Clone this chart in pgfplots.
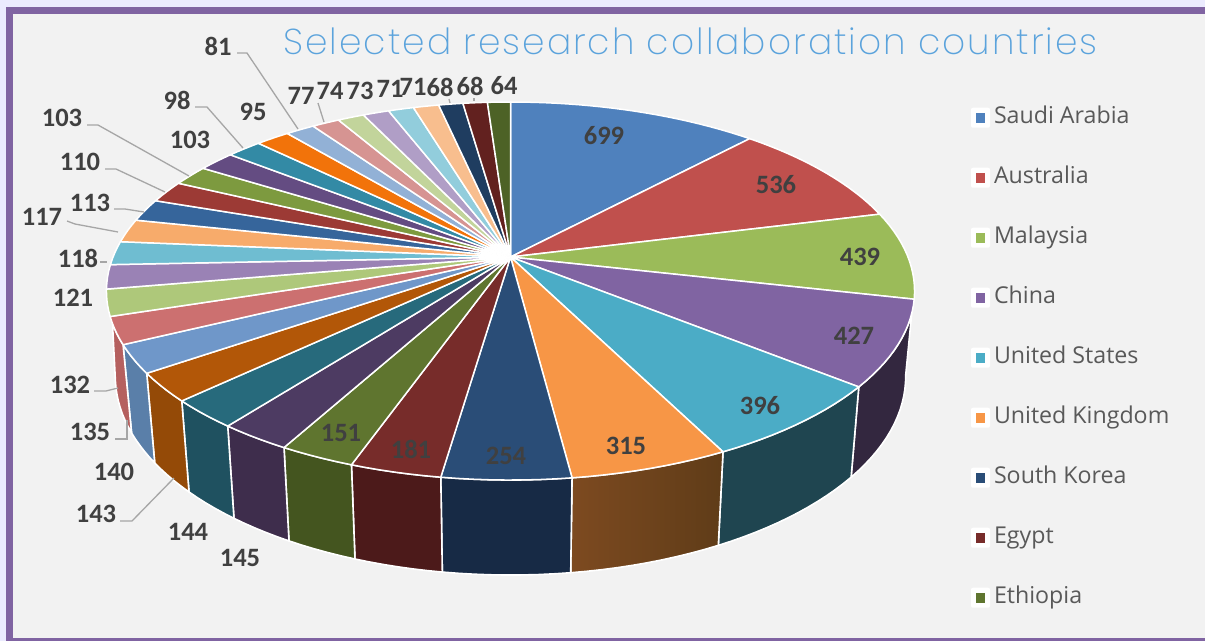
\documentclass[border=0pt]{standalone}
\usepackage{pgfplots}
\pgfplotsset{compat=1.18}
\usepackage{fontspec}
\setmainfont{Carlito}
\newfontfamily\legfont{Open Sans}
\newfontfamily\titlefont[UprightFont={* ExtraLight},LetterSpace=5.6]{Poppins}
\definecolor{t1}{HTML}{4F81BD}\definecolor{t2}{HTML}{C0504D}\definecolor{t3}{HTML}{9BBB59}
\definecolor{t4}{HTML}{8064A2}\definecolor{t5}{HTML}{4BACC6}\definecolor{t6}{HTML}{F79646}
\definecolor{t7}{HTML}{2A4D77}\definecolor{t8}{HTML}{772C2A}\definecolor{t9}{HTML}{5F752F}
\definecolor{t10}{HTML}{4D3B62}\definecolor{t11}{HTML}{276A7C}\definecolor{t12}{HTML}{B25708}
\definecolor{t13}{HTML}{6F97C9}\definecolor{t14}{HTML}{CC7070}\definecolor{t15}{HTML}{AEC87A}
\definecolor{t16}{HTML}{9A82B5}\definecolor{t17}{HTML}{6FBDD1}\definecolor{t18}{HTML}{F7AB6B}
\definecolor{t19}{HTML}{36659B}\definecolor{t20}{HTML}{9C3A35}\definecolor{t21}{HTML}{7D9A3F}
\definecolor{t22}{HTML}{644C82}\definecolor{t23}{HTML}{338AA5}\definecolor{t24}{HTML}{F2730A}
\definecolor{t25}{HTML}{92B1D6}\definecolor{t26}{HTML}{D69492}\definecolor{t27}{HTML}{C2D49B}
\definecolor{t28}{HTML}{B09EC6}\definecolor{t29}{HTML}{92CDDC}\definecolor{t30}{HTML}{F8BE8E}
\definecolor{t31}{HTML}{1F3D60}\definecolor{t32}{HTML}{62211F}\definecolor{t33}{HTML}{4D6226}
\definecolor{w4}{HTML}{33273F}\definecolor{w5}{HTML}{1F4550}\definecolor{w6}{HTML}{6E431C}
\definecolor{w7}{HTML}{172A45}\definecolor{w8}{HTML}{4C1A1A}\definecolor{w9}{HTML}{44551F}
\definecolor{w10}{HTML}{3E2D4C}\definecolor{w11}{HTML}{1F5160}\definecolor{w12}{HTML}{944A07}
\definecolor{w13}{HTML}{5A7FA9}\definecolor{w14}{HTML}{B5605F}
\definecolor{lab}{HTML}{404040}
\definecolor{lead}{HTML}{A6A6A6}
\definecolor{ukL}{HTML}{7D4A20}\definecolor{ukR}{HTML}{5F3C18}
\definecolor{titlec}{HTML}{5BA3DC}
% projection of the pie rim into the picture
\newcommand\toppt[1]{%
  \pgfmathsetmacro\tX{sin(#1)}\pgfmathsetmacro\tY{cos(#1)}%
  \pgfmathsetmacro\tW{1+0.18*\tY}%
  \pgfmathsetmacro\px{510.5+397.5*\tX/\tW}%
  \pgfmathsetmacro\py{257-182.9*\tY/\tW}}
\newcommand\botpt[1]{\toppt{#1}%
  \pgfmathsetmacro\py{\py+71+0.05*\py}%
  \pgfmathsetmacro\px{510.5+(\px-510.5)*0.978}}
% \arcadd{point macro}{from}{to}
\newcommand\arcadd[3]{%
  \pgfmathtruncatemacro\nn{max(2,ceil(abs(#3-(#2))/2))}%
  \foreach \k in {0,...,\nn}{%
    \pgfmathsetmacro\ang{#2+(#3-(#2))*\k/\nn}%
    #1{\ang}%
    \xdef\acc{\acc (\px,\py)}%
  }}
\newcommand\vals{699,536,439,427,396,315,254,181,151,145,144,143,140,135,132,121,118,117,113,110,103,103,98,95,81,77,74,73,71,71,68,68,64}
\newcommand\lbl[3]{\node[font=\bfseries\fontsize{26.5}{26.5}\selectfont,text=lab,inner sep=0pt] at (axis cs:#1,#2) {#3};}
\newcommand\leadline[1]{\addplot[lead,line width=1.3pt,forget plot] coordinates {#1};}
\begin{document}
\begin{tikzpicture}
\begin{axis}[
  scale only axis,width=1205pt,height=641pt,
  xmin=0,xmax=1205,ymin=0,ymax=641,y dir=reverse,hide axis,
  no markers,
  legend cell align=left,
  legend image code/.code={%
    \fill[white,rounded corners=2pt] (0pt,-10pt) rectangle (19pt,10pt);
    \fill[#1] (5pt,-5pt) rectangle (14pt,5pt);},
  legend style={at={(axis cs:971,103)},anchor=north west,draw=none,fill=none,
    inner sep=0pt,outer sep=0pt,row sep=30.6pt,
    nodes={inner sep=0pt,text height=20pt,text depth=9.4pt,
      font=\legfont\fontsize{23.2}{24}\selectfont,text=black!65}},
]
\addlegendimage{fill=t1,draw=none}\addlegendentry{\hspace{4pt}Saudi Arabia}
\addlegendimage{fill=t2,draw=none}\addlegendentry{\hspace{4pt}Australia}
\addlegendimage{fill=t3,draw=none}\addlegendentry{\hspace{4pt}Malaysia}
\addlegendimage{fill=t4,draw=none}\addlegendentry{\hspace{4pt}China}
\addlegendimage{fill=t5,draw=none}\addlegendentry{\hspace{4pt}United States}
\addlegendimage{fill=t6,draw=none}\addlegendentry{\hspace{4pt}United Kingdom}
\addlegendimage{fill=t7,draw=none}\addlegendentry{\hspace{4pt}South Korea}
\addlegendimage{fill=t8,draw=none}\addlegendentry{\hspace{4pt}Egypt}
\addlegendimage{fill=t9,draw=none}\addlegendentry{\hspace{4pt}Ethiopia}
% page and frame
\addplot[fill=black!3!blue!8!white,draw=none,forget plot] coordinates {(0,0)(1205,0)(1205,641)(0,641)} --cycle;
\addplot[fill=t4,draw=none,forget plot] coordinates {(6,7)(1205,7)(1205,641)(6,641)} --cycle;
\addplot[fill=black!5,draw=none,forget plot] coordinates {(13,14)(1205,14)(1205,638)(13,638)} --cycle;
% side walls
\gdef\cum{0}
\foreach \v [count=\i] in \vals {
  \pgfmathsetmacro\aS{\cum/5862*360}
  \pgfmathsetmacro\newcum{\cum+\v}
  \xdef\cum{\newcum}
  \pgfmathsetmacro\aE{\cum/5862*360}
  \ifnum\i>3 \ifnum\i<15
    \edef\tS{\aS}\edef\tE{\aE}\edef\bS{\aS}\edef\bE{\aE}
    \ifnum\i=4 \def\tS{107}\def\bS{100}\fi
    \ifnum\i=14 \def\tE{250}\def\bE{258}\fi
    \gdef\acc{}
    \arcadd{\toppt}{\tS}{\tE}
    \arcadd{\botpt}{\bE}{\bS}
    \def\wfill{fill=w\i}
    \ifnum\i=6 \def\wfill{left color=ukL,right color=ukR}\fi
    \edef\tmp{\noexpand\addplot[\wfill,draw=white,line width=1.6pt,line join=round,forget plot] coordinates {\acc} --cycle;}
    \tmp
  \fi\fi
}
% top faces
\gdef\cum{0}
\foreach \v [count=\i] in \vals {
  \pgfmathsetmacro\aS{\cum/5862*360}
  \pgfmathsetmacro\newcum{\cum+\v}
  \xdef\cum{\newcum}
  \pgfmathsetmacro\aE{\cum/5862*360}
  \xdef\acc{(510.5,257)}
  \arcadd{\toppt}{\aS}{\aE}
  \edef\tmp{\noexpand\addplot[fill=t\i,draw=white,line width=1.5pt,line join=round,forget plot] coordinates {\acc} --cycle;}
  \tmp
}
% leader lines
\leadline{(237,53)(247,53)(298,129)}
\leadline{(318,103)(324,122)}
\leadline{(195,107)(207,107)(243,148)}
\leadline{(87,125)(98,125)(189,176)}
\leadline{(105,169)(116,169)(165,192)}
\leadline{(114,209)(125,209)(144,212)}
\leadline{(67,221)(75,224)(118,232)}
\leadline{(100,262)(107,262)}
\leadline{(94,391)(106,391)(118,388)}
\leadline{(115,439)(127,439)(127,420)}
\leadline{(120,521)(132,521)(174,478)}
\leadline{(449,99)(450,103)}
\leadline{(474,98)(474,101)}
% data labels
\lbl{604}{136}{699}\lbl{776}{185}{536}\lbl{860}{257}{439}\lbl{854}{336}{427}
\lbl{760}{406}{396}\lbl{626}{446}{315}\lbl{506}{456}{254}\lbl{411}{449}{181}
\lbl{341}{433}{151}\lbl{240}{558}{145}\lbl{188}{532}{144}\lbl{96}{514}{143}
\lbl{114}{472}{140}\lbl{90}{432}{135}\lbl{70}{385}{132}\lbl{73}{298}{121}
\lbl{78}{258}{118}\lbl{42}{217}{117}\lbl{90}{203}{113}\lbl{80}{162}{110}
\lbl{62}{118}{103}\lbl{190}{140}{103}\lbl{177}{100}{98}\lbl{253}{112}{95}
\lbl{218}{46}{81}\lbl{301}{96}{77}\lbl{330}{91}{74}\lbl{360}{91}{73}
\lbl{390}{89}{71}\lbl{413}{87}{71}\lbl{440}{87}{68}\lbl{470}{86}{68}\lbl{504}{86}{64}
\node[font=\titlefont\fontsize{36}{36}\selectfont,text=titlec,anchor=base west,inner sep=0pt] at (axis cs:283,54) {Selected research collaboration countries};
\end{axis}
\end{tikzpicture}
\end{document}
